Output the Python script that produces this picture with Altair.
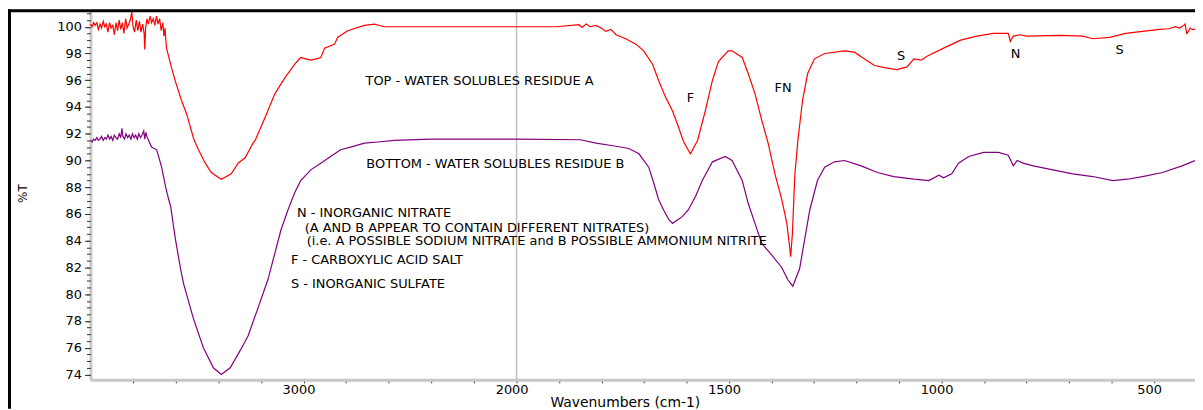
import altair as alt
import pandas as pd

# ---- data (wavenumber cm-1, %T) ----
top_spectrum = [
    (4000, 100.2), (3992, 100.0), (3985, 100.3), (3978, 100.1), (3970, 100.3), (3963, 99.8),
    (3955, 100.2), (3948, 99.9), (3940, 100.4), (3933, 100.0), (3925, 100.2), (3918, 99.6),
    (3910, 100.3), (3903, 99.9), (3895, 100.1), (3888, 99.4), (3880, 100.3), (3873, 99.7),
    (3865, 100.5), (3858, 99.8), (3850, 100.3), (3843, 99.5), (3835, 100.6), (3828, 99.9),
    (3820, 100.2), (3813, 100.5), (3806, 101.1), (3800, 100.0), (3793, 99.6), (3785, 100.5),
    (3778, 99.7), (3770, 100.4), (3763, 99.6), (3755, 100.2), (3748, 99.5), (3745, 98.3),
    (3741, 99.9), (3735, 100.6), (3728, 100.2), (3720, 100.8), (3713, 100.3), (3705, 100.6),
    (3698, 100.1), (3690, 100.8), (3683, 100.2), (3675, 100.6), (3668, 99.7), (3660, 100.3),
    (3655, 99.3), (3650, 99.9), (3647, 99.2), (3643, 98.4), (3619, 96.9), (3601, 95.9),
    (3573, 94.5), (3549, 93.5), (3531, 92.5), (3517, 91.7), (3507, 91.3), (3493, 90.8),
    (3461, 89.8), (3433, 89.1), (3386, 88.6), (3339, 89.0), (3307, 89.8), (3274, 90.2),
    (3237, 91.3), (3227, 91.5), (3181, 93.2), (3134, 95.0), (3087, 96.2), (3041, 97.2),
    (3013, 97.7), (2990, 97.6), (2966, 97.5), (2940, 97.6), (2919, 97.7), (2901, 98.4),
    (2854, 98.7), (2840, 99.2), (2793, 99.7), (2714, 100.1), (2667, 100.2), (2621, 100.0),
    (2560, 100.0), (2000, 100.0), (1906, 100.0), (1853, 100.15), (1846, 99.95), (1836, 100.2),
    (1827, 100.0), (1813, 100.1), (1801, 99.9), (1790, 99.65), (1778, 99.8), (1766, 99.4),
    (1743, 99.1), (1719, 98.7), (1701, 98.2), (1680, 97.2), (1666, 96.0), (1649, 94.7),
    (1633, 93.7), (1619, 92.5), (1607, 91.4), (1591, 90.5), (1574, 91.5), (1556, 93.7),
    (1539, 96.0), (1525, 97.4), (1502, 98.2), (1493, 98.2), (1469, 97.7), (1455, 96.5),
    (1439, 95.0), (1423, 93.0), (1408, 91.3), (1392, 89.0), (1376, 87.1), (1364, 85.3),
    (1357, 83.4), (1355, 82.8), (1351, 84.5), (1345, 89.0), (1338, 91.5), (1327, 94.5),
    (1315, 96.5), (1299, 97.6), (1275, 98.0), (1228, 98.2), (1205, 98.1), (1182, 97.6),
    (1158, 97.1), (1128, 96.9), (1105, 96.8), (1081, 97.0), (1065, 97.6), (1048, 97.5),
    (1034, 97.8), (995, 98.4), (955, 99.0), (917, 99.3), (878, 99.5), (843, 99.5),
    (838, 98.9), (831, 99.3), (815, 99.4), (801, 99.3), (721, 99.35), (667, 99.3),
    (644, 99.1), (604, 99.2), (567, 99.5), (527, 99.65), (487, 99.8), (465, 99.85),
    (450, 100.0), (440, 99.9), (430, 100.1), (427, 100.2), (423, 99.5), (420, 99.6),
    (415, 99.9), (410, 99.8), (403.5, 99.8),
]

bottom_spectrum = [
    (4000, 91.5), (3992, 91.4), (3985, 91.6), (3978, 91.5), (3970, 91.7), (3963, 91.5),
    (3955, 91.6), (3948, 91.8), (3940, 91.5), (3933, 91.7), (3925, 91.6), (3918, 91.9),
    (3910, 91.6), (3903, 91.8), (3895, 91.5), (3888, 91.9), (3880, 91.7), (3873, 91.6),
    (3865, 92.0), (3858, 91.7), (3852, 92.4), (3848, 91.8), (3840, 91.6), (3833, 92.0),
    (3825, 91.7), (3818, 91.9), (3810, 91.6), (3803, 92.0), (3795, 91.7), (3788, 91.9),
    (3780, 91.6), (3773, 92.0), (3765, 91.7), (3758, 91.9), (3750, 92.2), (3745, 91.6),
    (3740, 92.1), (3735, 91.8), (3727, 91.5), (3713, 91.0), (3689, 90.8), (3666, 89.5),
    (3647, 88.0), (3633, 87.1), (3624, 86.6), (3601, 84.1), (3577, 81.9), (3563, 80.8),
    (3517, 78.2), (3470, 76.0), (3423, 74.5), (3386, 74.0), (3344, 74.5), (3297, 75.8),
    (3260, 76.9), (3213, 79.0), (3167, 81.1), (3134, 83.1), (3106, 84.8), (3073, 86.3),
    (3041, 87.6), (3013, 88.5), (2966, 89.3), (2919, 89.8), (2873, 90.3), (2826, 90.8),
    (2779, 91.0), (2714, 91.3), (2639, 91.4), (2574, 91.5), (2400, 91.6), (2000, 91.6),
    (1850, 91.55), (1813, 91.3), (1773, 91.1), (1736, 90.9), (1712, 90.5), (1689, 89.5),
    (1677, 88.3), (1666, 87.1), (1654, 86.3), (1642, 85.6), (1633, 85.3), (1610, 85.8),
    (1596, 86.3), (1579, 87.3), (1563, 88.5), (1539, 89.9), (1509, 90.3), (1493, 90.0),
    (1469, 88.5), (1455, 86.8), (1439, 85.3), (1423, 83.8), (1399, 82.9), (1376, 82.0),
    (1362, 81.1), (1350, 80.6), (1334, 81.9), (1322, 84.1), (1310, 86.3), (1292, 88.5),
    (1275, 89.5), (1252, 89.9), (1228, 90.0), (1189, 89.6), (1151, 89.1), (1112, 88.8),
    (1065, 88.6), (1030, 88.5), (1006, 88.9), (995, 88.7), (976, 89.0), (960, 89.8),
    (936, 90.3), (901, 90.6), (866, 90.6), (843, 90.4), (831, 89.6), (822, 90.0),
    (808, 89.8), (784, 89.6), (738, 89.3), (691, 89.0), (644, 88.8), (597, 88.5),
    (562, 88.6), (527, 88.8), (480, 89.1), (434, 89.6), (403.5, 90.0),
]

series_names = ["TOP", "BOTTOM"]
series_colors = ["#ff0000", "#800080"]

# annotation texts: (text, wavenumber, %T)
left_labels = [
    ("TOP - WATER SOLUBLES RESIDUE A", 2709, 95.95),
    ("BOTTOM - WATER SOLUBLES RESIDUE B", 2705, 89.73),
    ("N - INORGANIC NITRATE", 3031, 86.1),
    ("(A AND B APPEAR TO CONTAIN DIFFERENT NITRATES)", 2994, 84.98),
    ("(i.e. A POSSIBLE SODIUM NITRATE and B POSSIBLE AMMONIUM NITRITE", 2985, 83.95),
    ("F - CARBOXYLIC ACID SALT", 3059, 82.54),
    ("S - INORGANIC SULFATE", 3059, 80.76),
]
peak_labels = [
    ("F", 1591, 94.69),
    ("FN", 1373, 95.43),
    ("S", 1095, 97.8),
    ("N", 826, 97.95),
    ("S", 581, 98.24),
]

x_ticks = [3800, 3600, 3400, 3200, 3000, 2800, 2600, 2400, 2200, 2000,
           1900, 1800, 1700, 1600, 1500, 1400, 1300, 1200, 1100, 1000,
           900, 800, 700, 600, 500]
y_major = [74 + 2 * i for i in range(14)]
y_minor = [74 + 0.5 * i for i in range(55)]

# ---- build tables ----
rows = []
for name, spec in zip(series_names, [top_spectrum, bottom_spectrum]):
    for i, (w, t) in enumerate(spec):
        rows.append({"series": name, "wn": w, "T": t, "idx": i})
df = pd.DataFrame(rows)
df_left = pd.DataFrame(left_labels, columns=["text", "wn", "T"])
df_peak = pd.DataFrame(peak_labels, columns=["text", "wn", "T"])

FONT = "DejaVu Sans"
PW, PH = 1112, 373

x_scale = alt.Scale(domain=[4000, 2000, 403.5], range=[0, 429, PW], zero=False, nice=False)
y_scale = alt.Scale(domain=[73.6, 101.3], zero=False, nice=False)

x_axis = alt.Axis(
    values=x_ticks,
    labelExpr="indexof([3000,2000,1500,1000,500], datum.value) >= 0 ? format(datum.value, 'd') : ''",
    domainColor="#c8c8c8", domainWidth=3,
    tickColor="#333333", tickSize=3, tickWidth=1,
    labelFont=FONT, labelFontSize=13, labelColor="black",
    labelPadding=1, labelOffset=-5, labelOverlap=False, labelFlush=False, labelBound=False,
    grid=False,
    title="Wavenumbers (cm-1)", titleFont=FONT, titleFontSize=14, titleFontWeight="normal",
    titleColor="black", titleX=538, titleY=23, titleAlign="center", titleBaseline="middle",
)
y_axis = alt.Axis(
    values=y_major, format="d", orient="left",
    domainColor="#c8c8c8", domainWidth=3,
    tickColor="#333333", tickWidth=1, tickSize=6,
    labelFont=FONT, labelFontSize=13, labelColor="black",
    labelPadding=3, labelOverlap=False, labelFlush=False, labelBound=False,
    grid=False,
    title="%T", titleFont=FONT, titleFontSize=12, titleFontWeight="normal", titleColor="black",
    titleX=-68, titleY=185, titleAngle=270, titleAlign="center", titleBaseline="middle",
)
y_axis_minor = alt.Axis(
    values=y_minor, orient="left", labels=False, domain=False,
    tickColor="#333333", tickWidth=1, tickSize=4, grid=False, title="",
)

grid2000 = alt.Chart(pd.DataFrame({"wn": [2000]})).mark_rule(color="#c0c0c0", strokeWidth=1.5).encode(
    x=alt.X("wn:Q", scale=x_scale, axis=x_axis),
    y=alt.value(0), y2=alt.value(PH),
)

lines = alt.Chart(df).mark_line(strokeWidth=1.2).encode(
    x=alt.X("wn:Q", scale=x_scale, axis=x_axis),
    y=alt.Y("T:Q", scale=y_scale, axis=y_axis),
    color=alt.Color("series:N", scale=alt.Scale(domain=series_names, range=series_colors), legend=None),
    order="idx:Q",
    detail="series:N",
)

txt_left = alt.Chart(df_left).mark_text(align="left", baseline="middle", font=FONT, fontSize=13, color="black").encode(
    x=alt.X("wn:Q", scale=x_scale, axis=x_axis), y=alt.Y("T:Q", scale=y_scale, axis=None), text="text:N",
)
txt_peak = alt.Chart(df_peak).mark_text(align="center", baseline="middle", font=FONT, fontSize=13, color="black").encode(
    x=alt.X("wn:Q", scale=x_scale, axis=x_axis), y=alt.Y("T:Q", scale=y_scale, axis=y_axis_minor), text="text:N",
)

frame_left = alt.Chart(pd.DataFrame({"a": [0]})).mark_rule(color="black", strokeWidth=3).encode(
    x=alt.value(-81.5), y=alt.value(0), y2=alt.value(402),
)
frame_top = alt.Chart(pd.DataFrame({"a": [0]})).mark_rule(color="black", strokeWidth=3).encode(
    x=alt.value(-83), x2=alt.value(PW), y=alt.value(1.5),
)

chart = alt.layer(grid2000, lines, txt_left, txt_peak, frame_left, frame_top).resolve_axis(
    y="independent"
).properties(
    width=PW, height=PH,
    autosize=alt.AutoSizeParams(type="none"),
    padding={"left": 83, "top": 0, "right": 0, "bottom": 29},
    background="white",
).configure_view(stroke=None)

chart.save("out.html", embed_options={"renderer": "svg", "actions": False})
